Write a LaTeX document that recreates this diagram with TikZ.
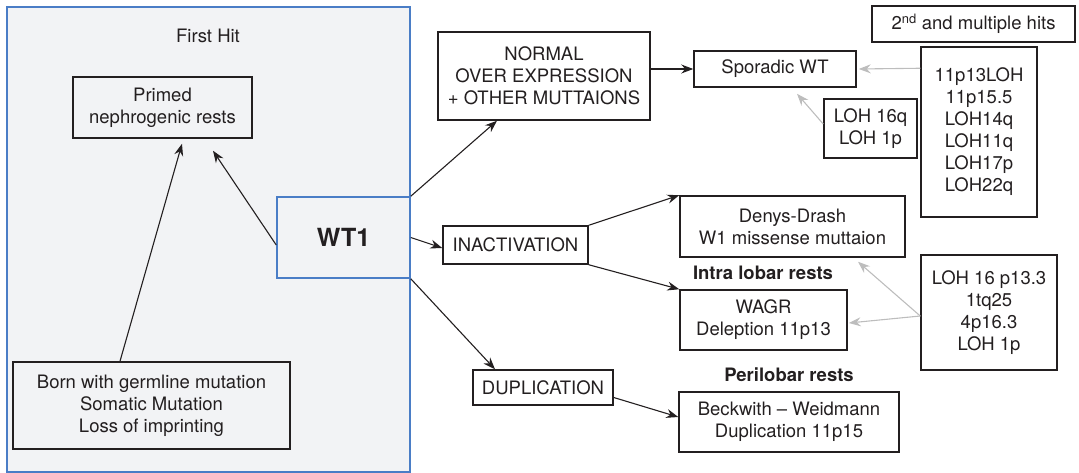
\documentclass[tikz,border=0pt]{standalone}
\usepackage{fontspec}
\setmainfont{TeX Gyre Heros}
\usetikzlibrary{arrows.meta}
\definecolor{framefill}{HTML}{F2F3F5}
\definecolor{frameblue}{HTML}{4A7DC6}
\definecolor{hitgrey}{HTML}{BDBDBD}
\definecolor{inkblack}{HTML}{231F20}
\begin{document}
\begin{tikzpicture}[x=1pt,y=-1pt,
    every node/.style={font=\fontsize{18.5}{22}\selectfont, text=inkblack},
    box/.style={draw=inkblack, line width=1.5pt, align=center, inner sep=0pt},
    lbl/.style={font=\fontsize{18.5}{22}\selectfont\bfseries},
    link/.style={draw=inkblack, line width=1.1pt, -{Stealth[length=12pt,width=9pt,inset=4pt]}},
    greylink/.style={draw=hitgrey, line width=1.1pt, -{Stealth[length=12pt,width=9pt,inset=4pt]}}]

    \useasboundingbox (0,0) rectangle (1079,473);

    \filldraw [fill=framefill, draw=frameblue, line width=1.5pt] (7,7) rectangle (410,472);
    \node (firsthit) at (208,36) {First Hit};

    \node [box, minimum width=179pt, minimum height=61pt] (primed) at (162.5,107.5) {Primed\\nephrogenic rests};
    \node [box, minimum width=277pt, minimum height=87pt] (born) at (151.5,405.5) {Born with germline mutation\\Somatic Mutation\\Loss of imprinting};
    \node [box, draw=frameblue, fill=framefill, minimum width=133pt, minimum height=81pt,
           font=\fontsize{25}{28}\selectfont\bfseries] (wt1) at (343.5,237.5) {WT1};

    \node [box, minimum width=212pt, minimum height=88pt] (normal) at (544,76) {NORMAL\\OVER EXPRESSION\\+ OTHER MUTTAIONS};
    \node [box, minimum width=145pt, minimum height=38pt] (inact) at (515.5,245) {INACTIVATION};
    \node [box, minimum width=140pt, minimum height=35pt] (dup) at (543,387.5) {DUPLICATION};

    \node [box, minimum width=162pt, minimum height=36pt] (sporadic) at (775,69) {Sporadic WT};
    \node [box, minimum width=225pt, minimum height=61pt] (denys) at (792.5,226.5) {Denys-Drash\\W1 missense muttaion};
    \node [box, minimum width=167pt, minimum height=60pt] (wagr) at (763.5,320) {WAGR\\Deleption 11p13};
    \node [box, minimum width=220pt, minimum height=60pt] (beck) at (789,422) {Beckwith -- Weidmann\\Duplication 11p15};
    \node [lbl] (intra) at (763,273) {Intra lobar rests};
    \node [lbl] (peri) at (789,375) {Perilobar rests};

    \node [box, minimum width=203pt, minimum height=36pt] (hits) at (973.5,24) {2\textsuperscript{nd} and multiple hits};
    \node [box, minimum width=116pt, minimum height=170pt] (sporlist) at (979,132) {11p13LOH\\11p15.5\\LOH14q\\LOH11q\\LOH17p\\LOH22q};
    \node [box, minimum width=93pt, minimum height=59pt] (lohq) at (870.5,128.5) {LOH 16q\\LOH 1p};
    \node [box, minimum width=136pt, minimum height=115pt] (lohp) at (989,312.5) {LOH 16 p13.3\\1tq25\\4p16.3\\LOH 1p};

    \draw [link] ([xshift=-31.5pt]born.north) -- ([xshift=19.5pt,yshift=-5pt]primed.south);
    \draw [link] ([yshift=-7.5pt]wt1.west) -- ([xshift=50.5pt,yshift=-12pt]primed.south);

    \draw [link] (wt1.north east) -- ([xshift=-47pt]normal.south);
    \draw [link] (wt1.east) -- ([yshift=-3pt]inact.west);
    \draw [link] (wt1.south east) -- ([xshift=-48pt]dup.north);

    \draw [link] ([yshift=7pt]normal.east) -- (sporadic.west);
    \draw [link] (inact.north east) -- (denys.north west);
    \draw [link] (inact.south east) -- (wagr.north west);
    \draw [link] ([yshift=-10pt]dup.east) -- ([yshift=5pt]beck.west);

    \draw [greylink] ([yshift=-22pt]sporlist.north west) -- ([xshift=2pt]sporadic.east);
    \draw [greylink] ([yshift=4.5pt]lohq.west) -- ([xshift=22pt,yshift=-6pt]sporadic.south);
    \draw [greylink] ([yshift=-3.5pt]lohp.west) -- ([xshift=65.5pt,yshift=-4pt]denys.south);
    \draw [greylink] ([yshift=-3.5pt]lohp.west) -- ([xshift=1pt,yshift=-3pt]wagr.east);

\end{tikzpicture}
\end{document}
